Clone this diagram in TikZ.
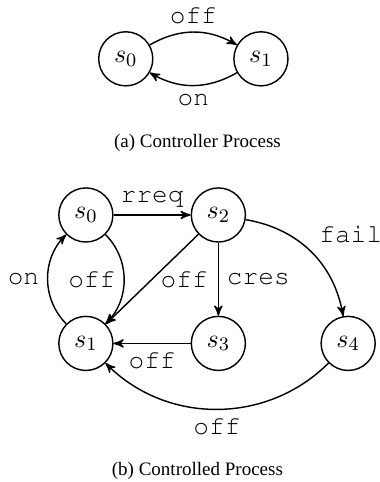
\documentclass[tikz,border=0pt]{standalone}
\usepackage{fontspec}
\setmainfont{Liberation Serif}
\setmonofont{Liberation Mono}
\usetikzlibrary{arrows}

\begin{document}
\begin{tikzpicture}[>=stealth', semithick]
\tikzstyle{stnode} = [circle, draw, minimum size=0.8cm, inner sep=0pt, font=\fontsize{11pt}{13pt}\selectfont]
\tikzstyle{lbl} = [font=\fontencoding{T1}\fontfamily{pcr}\fontsize{11pt}{13pt}\selectfont]
\useasboundingbox (0,0) rectangle (5.62,-7.13);

% controller process
\node[stnode] (c0) at (1.86,-0.87) {$s_0$};
\node[stnode] (c1) at (3.86,-0.87) {$s_1$};
\node[font=\footnotesize] (capa) at (2.92,-2.12) {(a) Controller Process};

\draw [->] (c0) to[bend left=30] node[lbl, auto] {off} (c1);
\draw [->] (c1) to[bend left=30] node[lbl, auto] {on} (c0);

% controlled process
\node[stnode] (p0) at (1.27,-3.18) {$s_0$};
\node[stnode] (p2) at (3.23,-3.18) {$s_2$};
\node[stnode] (p1) at (1.27,-5.08) {$s_1$};
\node[stnode] (p3) at (3.23,-5.08) {$s_3$};
\node[stnode] (p4) at (5.15,-5.08) {$s_4$};
\node[font=\footnotesize] (capb) at (2.92,-6.96) {(b) Controlled Process};

\draw [->] (p0) -- node[lbl, auto] {rreq} (p2);
\draw [->] (p0) to[bend left=45] node[lbl, auto, swap] {off} (p1);
\draw [->] (p1) to[bend left=45] node[lbl, auto] {on} (p0);
\draw [->] (p2) -- node[lbl, right] {off} (p1);
\draw [->] (p2) -- node[lbl, auto] {cres} (p3);
\draw [->] (p2) to[bend left=35] node[lbl, auto] {fail} (p4);
\draw [->] (p3) -- node[lbl, auto] {off} (p1);
\draw [->] (p4) to[bend left=45] node[lbl, auto] {off} (p1);
\end{tikzpicture}
\end{document}
